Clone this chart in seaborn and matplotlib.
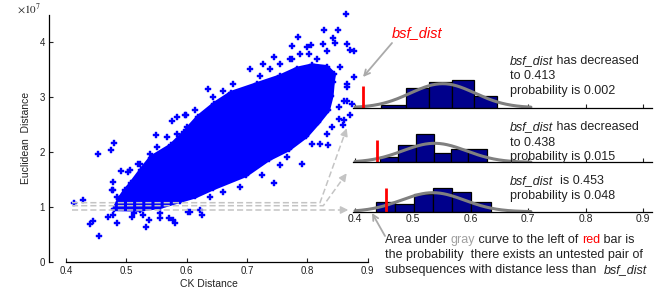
import numpy as np
import matplotlib
matplotlib.use("Agg")
import matplotlib.pyplot as plt
import seaborn as sns

sns.set_style("ticks")
plt.rcParams["font.family"] = ["Liberation Sans", "DejaVu Sans"]

W, H = 667, 299

# dense core of the scatter cloud (outline), CK distance vs Euclidean distance (x1e7)
core_x = [0.480, 0.488, 0.498, 0.508, 0.525, 0.541, 0.574, 0.596, 0.619, 0.646,
          0.674, 0.717, 0.755, 0.783, 0.808, 0.832, 0.844, 0.842, 0.840, 0.834,
          0.818, 0.798, 0.769, 0.736, 0.698, 0.644, 0.614, 0.589, 0.556, 0.523]
core_y = [0.96, 1.14, 1.30, 1.43, 1.68, 1.90, 2.12, 2.36, 2.64, 2.88,
          3.08, 3.24, 3.38, 3.52, 3.58, 3.55, 3.42, 3.27, 3.02, 2.76,
          2.54, 2.29, 2.05, 1.87, 1.58, 1.34, 1.19, 1.11, 1.00, 0.95]

# scattered points outside / on the edge of the core
out_x = [0.864, 0.828, 0.850, 0.785, 0.842, 0.845, 0.866, 0.806, 0.775, 0.799,
         0.826, 0.878, 0.870, 0.745, 0.788, 0.774, 0.726, 0.705, 0.878, 0.866,
         0.874, 0.866, 0.852, 0.870, 0.853, 0.841, 0.859, 0.453, 0.474, 0.480,
         0.428, 0.413, 0.439, 0.444, 0.454, 0.469, 0.478, 0.485, 0.509, 0.533,
         0.538, 0.556, 0.570, 0.581, 0.603, 0.491, 0.503, 0.478, 0.476, 0.522,
         0.549, 0.584, 0.599, 0.575, 0.539, 0.636, 0.625, 0.744, 0.791, 0.835,
         0.821, 0.766, 0.725, 0.755, 0.807, 0.832, 0.860, 0.689, 0.661, 0.639,
         0.622,
         0.597, 0.614, 0.644, 0.661, 0.677, 0.722, 0.738, 0.755, 0.771, 0.802,
         0.816, 0.832, 0.854, 0.865, 0.860, 0.506, 0.520, 0.550, 0.567, 0.584,
         0.600, 0.478, 0.484, 0.512, 0.528, 0.556, 0.578, 0.606]
out_y = [4.52, 4.23, 4.23, 4.09, 4.08, 3.99, 3.98, 3.95, 3.94, 3.91,
         3.97, 3.85, 3.87, 3.74, 3.79, 3.70, 3.61, 3.52, 3.36, 3.18,
         2.88, 2.94, 2.82, 2.67, 2.61, 2.45, 2.49, 1.97, 2.04, 2.16,
         1.12, 1.07, 0.68, 0.75, 0.47, 0.82, 0.86, 0.70, 0.81, 0.64,
         0.76, 0.80, 0.80, 0.71, 0.91, 1.65, 1.64, 1.45, 1.30, 1.79,
         2.32, 2.64, 2.68, 2.56, 1.97, 3.15, 0.85, 1.43, 1.79, 2.12,
         2.15, 1.91, 1.58, 1.76, 2.15, 2.33, 2.58, 1.36, 1.27, 1.18,
         0.94,
         2.67, 2.76, 3.00, 3.12, 3.24, 3.39, 3.52, 3.61, 3.70, 3.79,
         3.70, 3.85, 3.55, 3.24, 2.94, 1.67, 1.79, 2.09, 2.27, 2.33,
         2.45, 1.30, 1.18, 0.88, 0.85, 0.88, 0.76, 0.91]

# histograms of CK distances at three stages
h1_edges = [0.445, 0.489, 0.529, 0.568, 0.607, 0.647]
h1_counts = [2.7, 20, 25.7, 28, 11.7]
h2_edges = [0.443, 0.475, 0.506, 0.537, 0.566, 0.596, 0.628]
h2_counts = [5, 17, 28.3, 9.7, 13.3, 13]
h3_edges = [0.436, 0.470, 0.503, 0.535, 0.568, 0.601, 0.635]
h3_counts = [10, 7.5, 17.3, 23.3, 20, 10]

# fitted normal curves: mean, sd, peak height
fits = [(0.552, 0.056, 24), (0.538, 0.055, 19), (0.535, 0.055, 19)]
# bsf_dist red bars: value, bar height
bsf = [(0.413, 22), (0.438, 22), (0.453, 24)]

xticks = [0.4, 0.5, 0.6, 0.7, 0.8, 0.9]
xtick_labels = ["0.4", "0.5", "0.6", "0.7", "0.8", "0.9"]
yticks = [0, 1, 2, 3, 4]


def px_box(l, t, r, b):
    return [l / W, 1 - b / H, (r - l) / W, (b - t) / H]


fig = plt.figure(figsize=(W / 100, H / 100), dpi=100)

# main scatter
ax = fig.add_axes(px_box(49.3, 15, 367.7, 261.7))
ax.fill(core_x, np.array(core_y) * 1e7, color="blue", ec="blue", lw=3, joinstyle="round")
sns.scatterplot(x=core_x + out_x, y=np.array(core_y + out_y) * 1e7, marker="P", s=22,
                color="blue", edgecolor="blue", linewidth=0.3, ax=ax, clip_on=False)
ax.set_xlim(0.3723, 0.9)
ax.set_ylim(0, 4.5e7)
ax.set_xticks(xticks, xtick_labels)
ax.set_yticks([v * 1e7 for v in yticks], [str(v) for v in yticks])
sns.despine(ax=ax)
ax.spines["bottom"].set_bounds(0.4, 0.9)
for s in ["left", "bottom"]:
    ax.spines[s].set_linewidth(0.9)
    ax.spines[s].set_color("black")
ax.tick_params(direction="in", length=3, width=0.8, labelsize=7, pad=3, colors="#222222")
ax.set_xlabel("CK Distance", fontsize=7.5, labelpad=2, color="#222222")
ax.set_ylabel("Euclidean  Distance", fontsize=7.5, labelpad=6, color="#222222")

# histogram panels
baselines = [107.7, 162.3, 211.7]
hists = [(h1_edges, h1_counts), (h2_edges, h2_counts), (h3_edges, h3_counts)]
for i, (b, (edges, counts), (mu, sd, pk), (bv, bh)) in enumerate(zip(baselines, hists, fits, bsf)):
    pax = fig.add_axes(px_box(353.3, b - 35, 652, b))
    pax.patch.set_alpha(0)
    centers = [(edges[j] + edges[j + 1]) / 2 for j in range(len(counts))]
    sns.histplot(x=centers, weights=counts, bins=edges, color="#00008B", edgecolor="black",
                 linewidth=0.9, alpha=1, ax=pax)
    gx = np.linspace(0.4, 0.705, 200)
    gy = pk * np.exp(-0.5 * ((gx - mu) / sd) ** 2)
    sns.lineplot(x=gx, y=gy, color="#808080", lw=2.2, ax=pax)
    pax.vlines(bv, 0, bh, color="red", lw=2)
    pax.set_xlim(0.397, 0.915)
    pax.set_ylim(0, 35)
    pax.set_ylabel("")
    pax.set_yticks([])
    sns.despine(ax=pax, left=True)
    pax.spines["bottom"].set_linewidth(0.9)
    pax.spines["bottom"].set_color("black")
    pax.set_xticks(xticks, xtick_labels if i == 2 else [])
    pax.tick_params(axis="x", direction="in", length=3, width=0.8, labelsize=7.5, pad=2,
                    colors="#222222")

# overlay for annotations
ov = fig.add_axes([0, 0, 1, 1])
ov.set_xlim(0, W)
ov.set_ylim(H, 0)
ov.axis("off")
ov.patch.set_alpha(0)

ov.text(17, 9, r"$\times10^{7}$", math_fontfamily="stix", fontsize=8, ha="left", va="center",
        color="#222222")

K = "#222222"


def rich(x, y, parts, size=9):
    t = ov.text(x, y, parts[0][0], color=parts[0][1], style=parts[0][2], fontsize=size,
                ha="left", va="center")
    for s, c, st in parts[1:]:
        t = ov.annotate(s, xy=(1, 0), xycoords=t, va="bottom", ha="left", color=c,
                        style=st, fontsize=size)


rich(510, 61, [("bsf_dist", K, "italic"), (" has decreased", K, "normal")])
rich(510, 76, [("to 0.413", K, "normal")])
rich(510, 91, [("probability is 0.002", K, "normal")])
rich(510, 127.3, [("bsf_dist", K, "italic"), (" has decreased", K, "normal")])
rich(510, 142.7, [("to 0.438", K, "normal")])
rich(510, 157, [("probability is 0.015", K, "normal")])
rich(510, 181, [("bsf_dist", K, "italic"), ("  is 0.453", K, "normal")])
rich(510, 196, [("probability is 0.048", K, "normal")])
rich(385, 240, [("Area under ", K, "normal"), ("gray", "#A0A0A0", "normal"),
                (" curve to the left of ", K, "normal"), ("red", "red", "normal"),
                (" bar is", K, "normal")])
rich(385, 255, [("the probability  there exists an untested pair of", K, "normal")])
rich(385, 270, [("subsequences with distance less than  ", K, "normal"),
                ("bsf_dist", K, "italic")])

ov.text(417, 33, "bsf_dist", color="red", style="italic", fontsize=10.5, ha="center",
        va="center")

ARR = "#AAAAAA"
ov.annotate("", xy=(363, 77), xytext=(392, 43),
            arrowprops=dict(arrowstyle="->", color=ARR, lw=1.3, mutation_scale=10,
                            shrinkA=0, shrinkB=0))
ov.annotate("", xy=(372, 213), xytext=(385, 236),
            arrowprops=dict(arrowstyle="->", color=ARR, lw=1.3, mutation_scale=10,
                            shrinkA=0, shrinkB=0))

DSH = "#C4C4C4"
dashes = [([72, 320, 344.7], [202.7, 202.7, 133.9], (346.7, 128.3)),
          ([72, 323.3, 343.2], [205.7, 205.7, 178.2], (346.7, 173.3)),
          ([72, 342.3], [210, 210], (348.3, 210))]
for xs, ys, tip in dashes:
    ov.plot(xs, ys, ls=(0, (4, 2)), color=DSH, lw=1.1)
    ov.annotate("", xy=tip, xytext=(xs[-1], ys[-1]),
                arrowprops=dict(arrowstyle="-|>", color=DSH, lw=1.1, mutation_scale=11,
                                shrinkA=0, shrinkB=0))

fig.savefig("out.png", dpi=100)
